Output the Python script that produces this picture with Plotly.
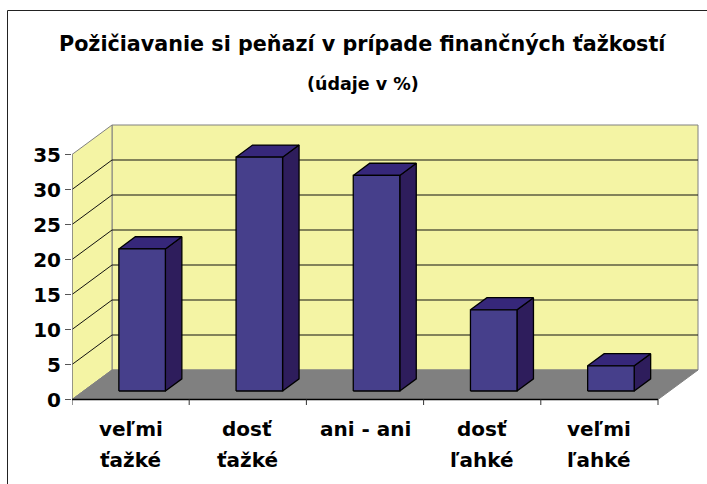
import plotly.graph_objects as go

# ---------------- data ----------------
categories = ["veľmi\nťažké", "dosť\nťažké", "ani - ani", "dosť\nľahké", "veľmi\nľahké"]
values = [20.3, 33.4, 30.8, 11.6, 3.6]
y_ticks = [0, 5, 10, 15, 20, 25, 30, 35]
title_text = "Požičiavanie si peňazí v prípade finančných ťažkostí"
subtitle_text = "(údaje v %)"

# ---------------- styling / geometry ----------------
W, H = 707, 484
ML, MR, MT, MB = 72, 7, 120, 78
PX_CAT = 117.2          # pixels per category
PX_UNIT = 7.0           # pixels per value unit
ZERO_PX = 399.5         # pixel row of value 0 on the front edge
DX = 40 / PX_CAT        # depth offset (x, data units)
DY = 29.5 / PX_UNIT     # depth offset (y, data units)
BAR_W = 0.397
BAR_D0, BAR_D1 = 0.288, 0.70

FONT = "DejaVu Sans"
WALL = "#F4F4A4"
FLOOR = "#808080"
EDGE = "#808080"
BAR_FRONT = "#463F8B"
BAR_TOP = "#36277A"
BAR_SIDE = "#2E1D5C"

plot_w = W - ML - MR
plot_h = H - MT - MB
x_range = [0, plot_w / PX_CAT]
y_min = -((H - MB) - ZERO_PX) / PX_UNIT
y_range = [y_min, y_min + plot_h / PX_UNIT]

n = len(categories)
ymax = y_ticks[-1]

fig = go.Figure()

shapes = []
# back wall
shapes.append(dict(type="rect", xref="x", yref="y", x0=DX, x1=n + DX, y0=DY, y1=ymax + DY,
                   fillcolor=WALL, line=dict(color=EDGE, width=1), layer="below"))
# left wall
shapes.append(dict(type="path", xref="x", yref="y",
                   path=f"M 0,0 L 0,{ymax} L {DX},{ymax + DY} L {DX},{DY} Z",
                   fillcolor=WALL, line=dict(color=EDGE, width=1), layer="below"))
# floor
shapes.append(dict(type="path", xref="x", yref="y",
                   path=f"M 0,0 L {n},0 L {n + DX},{DY} L {DX},{DY} Z",
                   fillcolor=FLOOR, line=dict(color=EDGE, width=1), layer="below"))
# gridlines
for v in y_ticks[1:-1]:
    shapes.append(dict(type="path", xref="x", yref="y",
                       path=f"M 0,{v} L {DX},{v + DY} L {n + DX},{v + DY}",
                       line=dict(color="#111111", width=1), layer="below"))
# front value axis line
shapes.append(dict(type="line", xref="x", yref="y", x0=0, x1=0, y0=0, y1=ymax,
                   line=dict(color=EDGE, width=1.3), layer="below"))
# front floor edge + category ticks
shapes.append(dict(type="line", xref="x", yref="y", x0=0, x1=n, y0=0, y1=0,
                   line=dict(color="#000000", width=1.3), layer="below"))
for i in range(n + 1):
    shapes.append(dict(type="line", xref="x", yref="y", x0=i, x1=i, y0=0, y1=-5.5 / PX_UNIT,
                       line=dict(color="#333333", width=1), layer="below"))

# chart border (outer frame)
def px_to_paper_x(px):
    return (px - ML) / plot_w

def px_to_paper_y(py):
    return ((H - MB) - py) / plot_h

shapes.append(dict(type="rect", xref="paper", yref="paper",
                   x0=px_to_paper_x(7.5), x1=px_to_paper_x(720),
                   y0=px_to_paper_y(500), y1=px_to_paper_y(10.5),
                   line=dict(color="#222222", width=1), fillcolor="rgba(0,0,0,0)"))

# bars (3D boxes built from the values)
for i, (cat, v) in enumerate(zip(categories, values)):
    xl = i + (1 - BAR_W) / 2
    xr = xl + BAR_W
    fx0, fy0 = BAR_D0 * DX, BAR_D0 * DY
    bx0, by0 = BAR_D1 * DX, BAR_D1 * DY
    line = dict(color="#000000", width=1.3)
    # side face
    fig.add_trace(go.Scatter(
        x=[xr + fx0, xr + bx0, xr + bx0, xr + fx0, xr + fx0],
        y=[fy0, by0, v + by0, v + fy0, fy0],
        mode="lines", fill="toself", fillcolor=BAR_SIDE, line=line,
        hoverinfo="skip", showlegend=False))
    # top face
    fig.add_trace(go.Scatter(
        x=[xl + fx0, xr + fx0, xr + bx0, xl + bx0, xl + fx0],
        y=[v + fy0, v + fy0, v + by0, v + by0, v + fy0],
        mode="lines", fill="toself", fillcolor=BAR_TOP, line=line,
        hoverinfo="skip", showlegend=False))
    # front face
    fig.add_trace(go.Scatter(
        x=[xl + fx0, xr + fx0, xr + fx0, xl + fx0, xl + fx0],
        y=[fy0, fy0, v + fy0, v + fy0, fy0],
        mode="lines", fill="toself", fillcolor=BAR_FRONT, line=line,
        name=cat.replace("\n", " "), hovertemplate=f"{cat.replace(chr(10), ' ')}: {v}<extra></extra>",
        showlegend=False))

annotations = []
# title & subtitle
annotations.append(dict(text=title_text, xref="paper", yref="paper",
                        x=px_to_paper_x(362.5), y=px_to_paper_y(44),
                        xanchor="center", yanchor="middle", showarrow=False,
                        font=dict(family=FONT, size=20.7, color="#000000", weight="bold")))
annotations.append(dict(text=subtitle_text, xref="paper", yref="paper",
                        x=px_to_paper_x(362.5), y=px_to_paper_y(84),
                        xanchor="center", yanchor="middle", showarrow=False,
                        font=dict(family=FONT, size=17.5, color="#000000", weight="bold")))
# category labels (two rows)
row_px = [429, 460]
for i, cat in enumerate(categories):
    for j, part in enumerate(cat.split("\n")):
        annotations.append(dict(text=part, xref="x", yref="paper",
                                x=i + 0.5, y=px_to_paper_y(row_px[j]),
                                xanchor="center", yanchor="middle", showarrow=False,
                                font=dict(family=FONT, size=20, color="#000000", weight="bold")))

fig.update_layout(
    width=W, height=H,
    margin=dict(l=ML, r=MR, t=MT, b=MB, pad=0),
    paper_bgcolor="#FFFFFF", plot_bgcolor="#FFFFFF",
    shapes=shapes, annotations=annotations,
    showlegend=False,
    xaxis=dict(range=x_range, showgrid=False, zeroline=False, showline=False,
               showticklabels=False, ticks="", fixedrange=True),
    yaxis=dict(range=y_range, showgrid=False, zeroline=False, showline=False,
               tickmode="array", tickvals=y_ticks, ticktext=[str(t) for t in y_ticks],
               ticks="outside", ticklen=6, tickcolor="#555555", tickwidth=1,
               tickfont=dict(family=FONT, size=20, color="#000000", weight="bold"),
               fixedrange=True),
)

fig.write_html(
    "out.html",
    config={"displayModeBar": False},
    post_script="document.body.style.margin='0';document.body.style.overflow='hidden';",
)
